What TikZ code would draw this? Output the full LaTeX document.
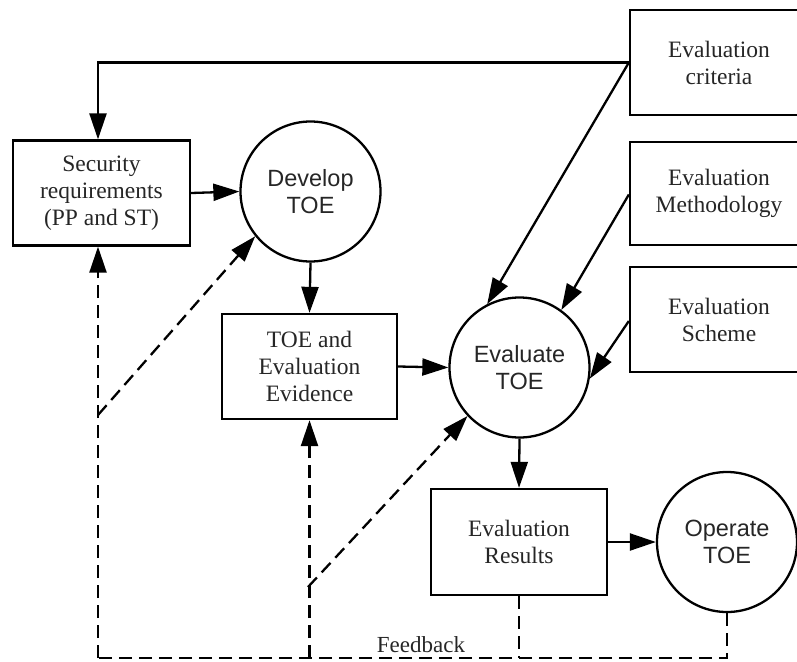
\documentclass[tikz,border=0pt]{standalone}
\usepackage{fontspec}
\setmainfont{Liberation Serif}
\newfontfamily\labelsans{Liberation Sans}
\usetikzlibrary{arrows.meta}

\tikzset{
  box/.style={draw, line width=2.3pt, rectangle, align=center, inner sep=0pt,
    text=black!85, font=\fontsize{23.5}{27}\selectfont},
  proc/.style={draw, line width=2.3pt, circle, minimum size=140pt, inner sep=0pt,
    align=center, text=black!85, font=\labelsans\fontsize{23.5}{27}\selectfont},
  tip/.style={-{Triangle[length=26pt,width=17pt]}},
  flow/.style={line width=2.3pt, tip},
  fb/.style={line width=2.3pt, dash pattern=on 13pt off 7pt},
}

\begin{document}
\begin{tikzpicture}[x=1pt, y=-1pt]
\useasboundingbox (0,0) rectangle (797,661);

% process steps
\node[box, minimum width=177pt, minimum height=105pt] (sec) at (101.5,193) {Security\\requirements\\(PP and ST)};
\node[proc] (dev) at (310.5,191.5) {Develop\\TOE};
\node[box, minimum width=175pt, minimum height=105pt] (evid) at (309.5,366.5) {TOE and\\Evaluation\\Evidence};
\node[proc] (eval) at (519.5,367.5) {Evaluate\\TOE};
\node[box, minimum width=176pt, minimum height=106pt] (res) at (519,542) {Evaluation\\Results};
\node[proc] (op) at (727,542) {Operate\\TOE};

% inputs on the right (boxes run past the page edge)
\node[box, minimum width=178pt, minimum height=105pt] (crit) at (719,62.5) {Evaluation\\criteria};
\node[box, minimum width=178pt, minimum height=103pt] (meth) at (719,193.5) {Evaluation\\Methodology};
\node[box, minimum width=178pt, minimum height=105pt] (sch) at (719,319.5) {Evaluation\\Scheme};

% main flow
\draw[flow] (crit.west) -| ([xshift=-3.5pt]sec.north);
\draw[flow] (sec.east) -- (dev.west);
\draw[flow] (dev.south) -- (evid.north);
\draw[flow] (evid.east) -- (eval.west);
\draw[flow] (eval.south) -- (res.north);
\draw[flow] (res.east) -- (op.west);
\draw[flow] (crit.west) -- (eval.117);
\draw[flow] ([yshift=-1pt]meth.west) -- (eval.54);
\draw[flow] ([yshift=-1.5pt]sch.west) -- (eval.-9);

% feedback paths
\coordinate (fbL) at (98,658);
\coordinate (d1) at (98,415);
\coordinate (d2) at (308,587);
\draw[fb] (op.south) |- (fbL);
\draw[fb, tip] (fbL) -- ([xshift=-3.5pt]sec.south);
\draw[fb] (res.south) -- (res.south |- fbL);
\draw[fb, tip] (evid.south |- fbL) -- (evid.south);
\draw[fb, tip] (d1) -- (dev.219);
\draw[fb, tip] (d2) -- (eval.223);

\node[anchor=base, inner sep=0pt, text=black!85, font=\fontsize{23}{27}\selectfont] (fbtext) at (421,652) {Feedback};
\end{tikzpicture}
\end{document}
